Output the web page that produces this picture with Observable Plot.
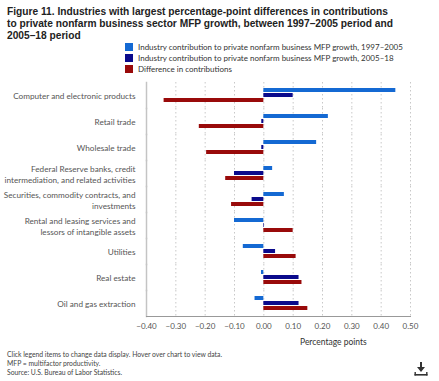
<!DOCTYPE html>
<html>
<head>
<meta charset="utf-8">
<script src="https://cdn.jsdelivr.net/npm/d3@7"></script>
<script src="https://cdn.jsdelivr.net/npm/@observablehq/plot@0.6"></script>
<style>
  html, body { margin: 0; padding: 0; background: #fff; width: 439px; height: 381px; overflow: hidden; }
  #wrap { position: relative; width: 439px; height: 381px; }
  #title { position: absolute; left: 7px; top: 6px; width: 392px; font-family: "Liberation Sans", Arial, sans-serif; font-weight: bold; font-size: 10.2px; line-height: 12px; color: #222; z-index: 2; }
  #legend { position: absolute; left: 125px; top: 41px; font-family: Lato, sans-serif; font-size: 8px; color: #333; z-index: 2; }
  .li { display: flex; align-items: center; height: 11px; }
  .sw { width: 8px; height: 8px; margin-right: 5px; }
  #chart { position: absolute; left: 0; top: 70px; z-index: 1; }
  #xlabel { position: absolute; left: 300px; top: 337px; font-family: Lato, sans-serif; font-size: 8.5px; color: #333; z-index: 2; }
  #foot { position: absolute; left: 7px; top: 350px; font-family: Lato, sans-serif; font-size: 6.8px; line-height: 9px; color: #444; z-index: 2; }
  #dl { position: absolute; left: 413px; top: 361px; z-index: 2; }
</style>
</head>
<body>
<div id="wrap">
  <div id="title">Figure 11. Industries with largest percentage-point differences in contributions to private nonfarm business sector MFP growth, between 1997–2005 period and 2005–18 period</div>
  <div id="legend"></div>
  <div id="chart"></div>
  <div id="xlabel">Percentage points</div>
  <div id="foot">Click legend items to change data display. Hover over chart to view data.<br>MFP = multifactor productivity.<br>Source: U.S. Bureau of Labor Statistics.</div>
  <svg id="dl" width="16" height="16" viewBox="0 0 16 16">
    <path d="M7 1 L9 1 L9 6 L12 6 L8 11 L4 6 L7 6 Z" fill="#333"/>
    <rect x="1.5" y="13" width="13" height="1.6" fill="#333"/>
    <rect x="1.5" y="11" width="1.4" height="3.5" fill="#333"/>
    <rect x="13.1" y="11" width="1.4" height="3.5" fill="#333"/>
  </svg>
</div>
<script>
const categories = [
  "Computer and electronic products",
  "Retail trade",
  "Wholesale trade",
  "Federal Reserve banks, credit\nintermediation, and related activities",
  "Securities, commodity contracts, and\ninvestments",
  "Rental and leasing services and\nlessors of intangible assets",
  "Utilities",
  "Real estate",
  "Oil and gas extraction"
];
const seriesNames = [
  "Industry contribution to private nonfarm business MFP growth, 1997–2005",
  "Industry contribution to private nonfarm business MFP growth, 2005–18",
  "Difference in contributions"
];
const colors = ["#1469d3", "#0a0a8c", "#990a0a"];
const contrib1997_2005 = [0.45, 0.22, 0.18, 0.03, 0.07, -0.10, -0.07, -0.008, -0.03];
const contrib2005_18   = [0.10, -0.007, -0.007, -0.10, -0.04, 0.002, 0.04, 0.12, 0.12];
const difference       = [-0.34, -0.22, -0.195, -0.13, -0.11, 0.10, 0.11, 0.13, 0.15];
const xTicks = [-0.4, -0.3, -0.2, -0.1, 0, 0.1, 0.2, 0.3, 0.4, 0.5];

const allSeries = [contrib1997_2005, contrib2005_18, difference];
const rows = [];
categories.forEach((c, i) => {
  allSeries.forEach((s, j) => rows.push({category: c, series: seriesNames[j], value: s[i]}));
});

// legend
const leg = document.getElementById("legend");
seriesNames.forEach((n, j) => {
  const d = document.createElement("div");
  d.className = "li";
  d.innerHTML = `<span class="sw" style="background:${colors[j]}"></span><span>${n}</span>`;
  leg.appendChild(d);
});

const chart = Plot.plot({
  width: 439,
  height: 280,
  marginLeft: 146,
  marginRight: 29,
  marginTop: 11,
  marginBottom: 34,
  style: {fontFamily: "Lato, sans-serif", fontSize: "8px", background: "transparent"},
  x: {domain: [-0.4, 0.5], ticks: xTicks},
  fy: {domain: categories, padding: 0, label: null},
  y: {domain: seriesNames, paddingInner: 0.3, paddingOuter: 1.25, axis: null},
  color: {domain: seriesNames, range: colors},
  marks: [
    Plot.gridX(xTicks, {stroke: "#c8c8c8", strokeOpacity: 1, strokeDasharray: "1.5,2.5"}),
    Plot.barX(rows, {fy: "category", y: "series", x: "value", fill: "series"}),
    Plot.frame({anchor: "left", stroke: "#c4c4c4", strokeWidth: 1.5}),
    Plot.frame({anchor: "bottom", facetAnchor: "bottom", stroke: "#999", strokeWidth: 1}),
    Plot.axisX({ticks: xTicks, tickFormat: d3.format(".2f"), tickSize: 0, tickPadding: 7, label: null, fill: "#555", fontSize: 8}),
    Plot.axisFy({anchor: "left", tickSize: 0, tickPadding: 11, label: null, fill: "#555", fontSize: 8.2, lineHeight: 1.35})
  ]
});
document.getElementById("chart").appendChild(chart);
</script>
</body>
</html>
